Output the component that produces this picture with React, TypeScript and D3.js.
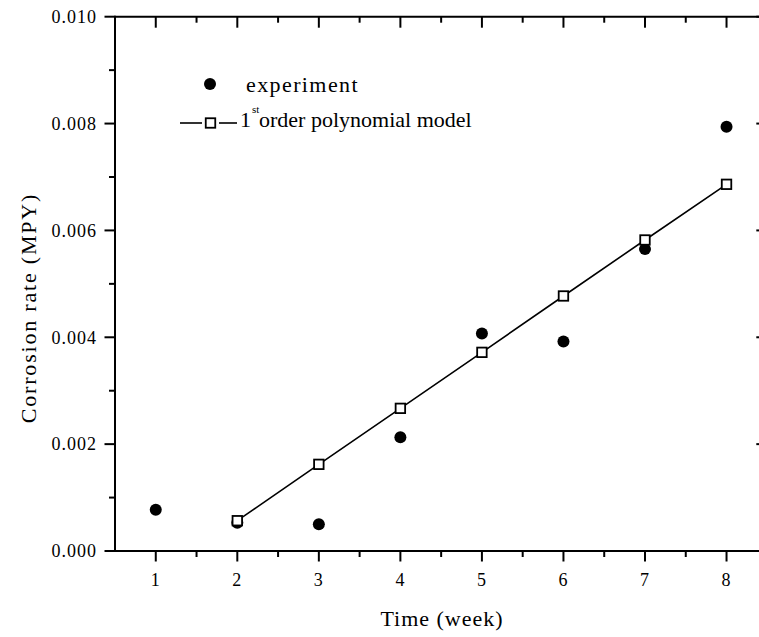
import React from "react";
import * as d3 from "d3";

// Weekly corrosion-rate measurements and the first-order polynomial fit
const weeks = [1, 2, 3, 4, 5, 6, 7, 8];
const experiment = [0.00077, 0.00053, 0.0005, 0.00213, 0.00407, 0.00392, 0.00565, 0.00794];
const modelWeeks = [2, 3, 4, 5, 6, 7, 8];
const model = [0.000567, 0.001622, 0.00267, 0.003718, 0.004773, 0.005821, 0.006863];
const yTicks = [0, 0.002, 0.004, 0.006, 0.008, 0.01];
const yMinor = [0.001, 0.003, 0.005, 0.007, 0.009];
const xTicks = [1, 2, 3, 4, 5, 6, 7, 8];
const xMinor = [1.5, 2.5, 3.5, 4.5, 5.5, 6.5, 7.5];

const W = 759;
const H = 637;
const FONT = '"Liberation Serif", "Times New Roman", Times, "DejaVu Serif", serif';
const txt = { fontFamily: FONT };

export default function App() {
  const left = 115;
  const right = 767.3;
  const top = 16.7;
  const bottom = 551;

  const x = d3.scaleLinear().domain([0.5, 8.5]).range([left, right]);
  const y = d3.scaleLinear().domain([0, 0.01]).range([bottom, top]);

  const line = d3
    .line<number>()
    .x((_, i) => x(modelWeeks[i]))
    .y((d) => y(d));

  const sq = 9.5;

  return (
    <svg
      width={W}
      height={H}
      style={{ position: "absolute", left: 0, top: 0, background: "#fff", fontFamily: FONT }}
    >
      <rect x={0} y={0} width={W} height={H} fill="#fff" />

      {/* frame */}
      <g stroke="#000" strokeWidth={2} fill="none">
        <line x1={left} x2={right} y1={top} y2={top} />
        <line x1={left} x2={right} y1={bottom} y2={bottom} />
        <line x1={left} x2={left} y1={top - 1} y2={bottom + 1} />
        <line x1={right} x2={right} y1={top - 1} y2={bottom + 1} />
      </g>

      {/* x ticks: outward at bottom, inward at top; y ticks outward left, inward right */}
      <g stroke="#000" strokeWidth={2}>
        {xTicks.map((t) => (
          <g key={"xt" + t}>
            <line x1={x(t)} x2={x(t)} y1={bottom} y2={bottom + 10.5} />
            <line x1={x(t)} x2={x(t)} y1={top} y2={top + 11} />
          </g>
        ))}
        {xMinor.map((t) => (
          <g key={"xm" + t}>
            <line x1={x(t)} x2={x(t)} y1={bottom} y2={bottom + 6} />
            <line x1={x(t)} x2={x(t)} y1={top} y2={top + 6} />
          </g>
        ))}
        {yTicks.map((t) => (
          <g key={"yt" + t}>
            <line x1={left - 10.5} x2={left} y1={y(t)} y2={y(t)} />
            <line x1={right - 11} x2={right} y1={y(t)} y2={y(t)} />
          </g>
        ))}
        {yMinor.map((t) => (
          <g key={"ym" + t}>
            <line x1={left - 6} x2={left} y1={y(t)} y2={y(t)} />
            <line x1={right - 6} x2={right} y1={y(t)} y2={y(t)} />
          </g>
        ))}
      </g>

      {/* tick labels */}
      <g fill="#000">
        {xTicks.map((t) => (
          <text key={"xl" + t} x={x(t)} y={586} textAnchor="middle" style={{ ...txt, fontSize: 18, letterSpacing: 1 }}>
            {t}
          </text>
        ))}
        {yTicks.map((t) => (
          <text
            key={"yl" + t}
            x={97}
            y={y(t)}
            dy="0.35em"
            textAnchor="end"
            style={{ ...txt, fontSize: 18, letterSpacing: 1 }}
          >
            {d3.format(".3f")(t)}
          </text>
        ))}
      </g>

      {/* axis titles */}
      <text x={442} y={626} textAnchor="middle" style={{ ...txt, fontSize: 22, letterSpacing: 1 }}>
        Time (week)
      </text>
      <text
        transform="translate(36,308) rotate(-90)"
        textAnchor="middle"
        style={{ ...txt, fontSize: 22, letterSpacing: 1.8 }}
      >
        Corrosion rate (MPY)
      </text>

      {/* experiment points */}
      <g fill="#000">
        {weeks.map((w, i) => (
          <circle key={"e" + w} cx={x(w)} cy={y(experiment[i])} r={6} />
        ))}
      </g>

      {/* model line and markers */}
      <path d={line(model) || ""} fill="none" stroke="#000" strokeWidth={1.6} />
      <g fill="#fff" stroke="#000" strokeWidth={1.8}>
        {modelWeeks.map((w, i) => (
          <rect
            key={"m" + w}
            x={x(w) - sq / 2}
            y={y(model[i]) - sq / 2}
            width={sq}
            height={sq}
          />
        ))}
      </g>

      {/* legend */}
      <g fill="#000">
        <circle cx={210} cy={84} r={6} />
        <text x={246} y={92} style={{ ...txt, fontSize: 22, letterSpacing: 1.4 }}>
          experiment
        </text>
        <line x1={180} x2={202} y1={123} y2={123} stroke="#000" strokeWidth={1.6} />
        <line x1={219} x2={237} y1={123} y2={123} stroke="#000" strokeWidth={1.6} />
        <rect
          x={210.5 - sq / 2}
          y={123 - sq / 2}
          width={sq}
          height={sq}
          fill="#fff"
          stroke="#000"
          strokeWidth={1.8}
        />
        <text x={240} y={127} style={{ ...txt, fontSize: 22 }}>
          1
        </text>
        <text x={252} y={113} style={{ ...txt, fontSize: 11 }}>
          st
        </text>
        <text x={259} y={127} style={{ ...txt, fontSize: 22 }}>
          order polynomial model
        </text>
      </g>
    </svg>
  );
}
